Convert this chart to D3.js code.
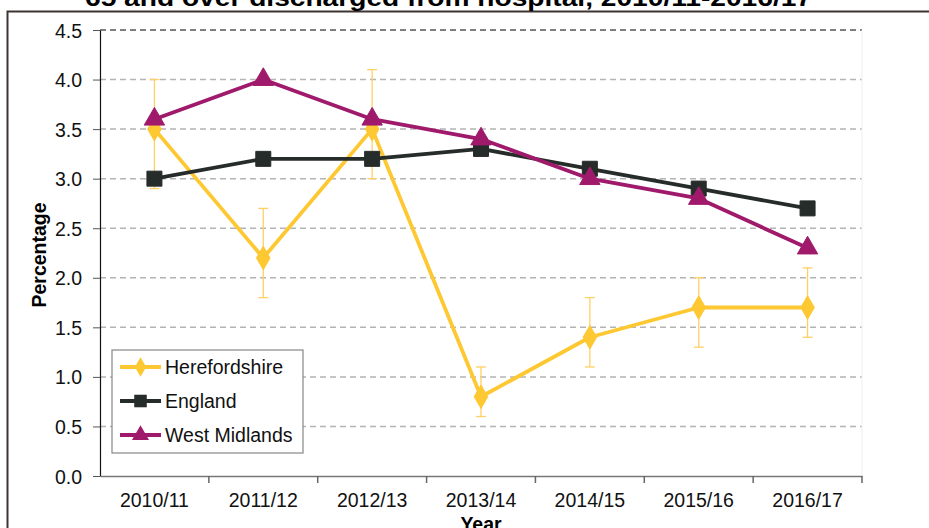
<!DOCTYPE html>
<html>
<head>
<meta charset="utf-8">
<script src="https://cdn.jsdelivr.net/npm/d3@7"></script>
<style>
  body { margin: 0; background: #fff; }
  svg { display: block; font-family: Arial, "Liberation Sans", sans-serif; }
</style>
</head>
<body>
<div id="chart"></div>
<script>
// data
const years = ["2010/11", "2011/12", "2012/13", "2013/14", "2014/15", "2015/16", "2016/17"];
const herefordshire = [3.5, 2.2, 3.5, 0.8, 1.4, 1.7, 1.7];
const hereLower = [2.9, 1.8, 3.0, 0.6, 1.1, 1.3, 1.4];
const hereUpper = [4.0, 2.7, 4.1, 1.1, 1.8, 2.0, 2.1];
const england = [3.0, 3.2, 3.2, 3.3, 3.1, 2.9, 2.7];
const westMidlands = [3.6, 4.0, 3.6, 3.4, 3.0, 2.8, 2.3];
const yTicks = [0, 0.5, 1, 1.5, 2, 2.5, 3, 3.5, 4, 4.5];

const W = 929, H = 528;
const margin = {top: 30, right: 67, bottom: 52, left: 100},
    width = W - margin.left - margin.right,
    height = H - margin.top - margin.bottom;

const svg = d3.select("#chart").append("svg")
    .attr("width", W)
    .attr("height", H);

// outer frame
svg.append("path")
    .attr("d", `M7.5,${H} V11.5 H${W}`)
    .attr("fill", "none")
    .attr("stroke", "#3f3434")
    .attr("stroke-width", 2);

// title (cut off at top)
svg.append("text")
    .attr("x", 85)
    .attr("y", 6)
    .attr("textLength", 727)
    .attr("lengthAdjust", "spacingAndGlyphs")
    .style("font-size", "24px")
    .style("font-weight", "bold")
    .text("65 and over discharged from hospital, 2010/11-2016/17");

const g = svg.append("g")
    .attr("transform", `translate(${margin.left},${margin.top})`);

const x = d3.scaleBand().domain(years).range([0, width]);
const y = d3.scaleLinear().domain([0, 4.5]).range([height, 0]);
const cx = d => x(d) + x.bandwidth() / 2;

// gridlines
g.append("g").selectAll("line")
    .data(yTicks.filter(t => t > 0))
    .join("line")
    .attr("x1", 0)
    .attr("x2", width)
    .attr("y1", d => y(d))
    .attr("y2", d => y(d))
    .attr("stroke", d => d === 4.5 ? "#555" : "#b4b4b4")
    .attr("stroke-width", 1.5)
    .attr("stroke-dasharray", "6,4");

// faint right border of plot
g.append("line")
    .attr("x1", width).attr("x2", width)
    .attr("y1", 0).attr("y2", height)
    .attr("stroke", "#f0f0f0");

// y axis
const yAxis = g.append("g")
    .call(d3.axisLeft(y).tickValues(yTicks).tickFormat(d3.format(".1f")).tickSize(7).tickSizeOuter(0));
yAxis.select(".domain").attr("stroke", "#111").attr("stroke-width", 1.2);
yAxis.selectAll(".tick line").attr("stroke", "#555");
yAxis.selectAll("text")
    .attr("x", -18)
    .attr("dy", "0.36em")
    .style("font-size", "19.5px")
    .style("font-family", "Arial, 'Liberation Sans', sans-serif")
    .attr("fill", "#111");

// x axis
const xAxis = g.append("g")
    .attr("transform", `translate(0,${height})`)
    .call(d3.axisBottom(x).tickSize(0).tickSizeOuter(0));
xAxis.select(".domain").attr("stroke", "#777").attr("stroke-width", 1.5);
xAxis.selectAll("text")
    .attr("dy", 0)
    .attr("y", 30.5)
    .style("font-size", "19.5px")
    .style("font-family", "Arial, 'Liberation Sans', sans-serif")
    .attr("fill", "#111");
// category boundary ticks
g.append("g").selectAll("line")
    .data(years.slice(1).concat(["end"]))
    .join("line")
    .attr("x1", (d, i) => x.step() * (i + 1))
    .attr("x2", (d, i) => x.step() * (i + 1))
    .attr("y1", height)
    .attr("y2", height + 7)
    .attr("stroke", "#666")
    .attr("stroke-width", 1.5);

// axis titles
svg.append("text")
    .attr("transform", `translate(46,${margin.top + height / 2 + 2}) rotate(-90)`)
    .attr("text-anchor", "middle")
    .style("font-size", "19.5px")
    .style("font-weight", "bold")
    .text("Percentage");
svg.append("text")
    .attr("x", margin.left + width / 2)
    .attr("y", 531)
    .attr("text-anchor", "middle")
    .style("font-size", "19.5px")
    .style("font-weight", "bold")
    .text("Year");

const line = d3.line().x((d, i) => cx(years[i])).y(d => y(d));

// error bars for Herefordshire
const eb = g.append("g").attr("stroke", "#ffd066").attr("stroke-width", 1.3);
years.forEach((yr, i) => {
    eb.append("line").attr("x1", cx(yr)).attr("x2", cx(yr))
        .attr("y1", y(hereLower[i])).attr("y2", y(hereUpper[i]));
    [hereLower[i], hereUpper[i]].forEach(v => {
        eb.append("line").attr("x1", cx(yr) - 5).attr("x2", cx(yr) + 5)
            .attr("y1", y(v)).attr("y2", y(v));
    });
});

const series = [
    {name: "Herefordshire", values: herefordshire, color: "#fec832", symbol: d3.symbolDiamond, size: 160},
    {name: "England", values: england, color: "#262c2a", symbol: d3.symbolSquare, size: 225},
    {name: "West Midlands", values: westMidlands, color: "#a01a6c", symbol: d3.symbolTriangle, size: 180}
];

series.forEach(s => {
    g.append("path")
        .datum(s.values)
        .attr("d", line)
        .attr("fill", "none")
        .attr("stroke", s.color)
        .attr("stroke-width", 3.8)
        .attr("stroke-linejoin", "round");
    g.append("g").selectAll("path")
        .data(s.values)
        .join("path")
        .attr("transform", (d, i) => `translate(${cx(years[i])},${y(d)})`)
        .attr("d", d3.symbol(s.symbol, s.size))
        .attr("fill", s.color)
        .attr("stroke", s.color)
        .attr("stroke-width", 1);
});

// legend
const lg = svg.append("g").attr("transform", "translate(112,350)");
lg.append("rect")
    .attr("width", 191).attr("height", 103)
    .attr("fill", "#fff")
    .attr("stroke", "#888")
    .attr("stroke-width", 1.2);
series.forEach((s, i) => {
    const row = lg.append("g").attr("transform", `translate(0,${17 + i * 34})`);
    row.append("line")
        .attr("x1", 8).attr("x2", 49)
        .attr("stroke", s.color).attr("stroke-width", 3.8);
    row.append("path")
        .attr("transform", "translate(28.5,0)")
        .attr("d", d3.symbol(s.symbol, s.size * 0.7))
        .attr("fill", s.color);
    row.append("text")
        .attr("x", 53).attr("y", 0).attr("dy", "0.36em")
        .style("font-size", "19.5px")
        .attr("fill", "#111")
        .text(s.name);
});
</script>
</body>
</html>
